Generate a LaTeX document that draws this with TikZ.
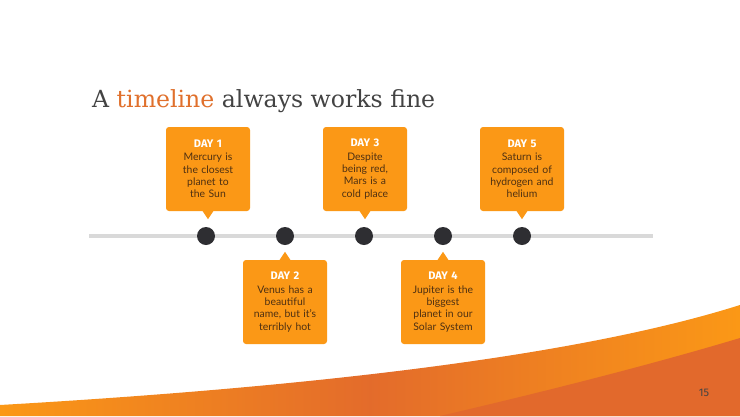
\documentclass[tikz,border=0pt]{standalone}
\usepackage{fontspec}
\setmainfont{Lato}
\newfontfamily\titlefont{DejaVu Serif}
\newfontfamily\dayfont{Fira Sans}
\usepackage{tikz}
\usetikzlibrary{calc}

\definecolor{boxorange}{HTML}{FB9816}
\definecolor{titleorange}{HTML}{E0702C}
\definecolor{titlegray}{HTML}{434343}
\definecolor{bodybrown}{HTML}{4E3012}
\definecolor{dotgray}{HTML}{2E2E32}
\definecolor{linegray}{HTML}{D9D9D9}
\definecolor{swooshred}{HTML}{E2692C}

\tikzset{
  daybox/.style={fill=boxorange, rounded corners=3pt, minimum width=84pt, minimum height=84pt,
    text width=82pt, align=center, text=bodybrown, font=\fontsize{10.4}{12.3}\selectfont, inner sep=0pt},
  dot/.style={circle, fill=dotgray, minimum size=18pt, inner sep=0pt},
}
\newcommand{\dayhead}[1]{{\dayfont\bfseries\fontsize{11}{12}\selectfont\color{white}#1}\\[1pt]}

\begin{document}
\begin{tikzpicture}[x=1pt, y=-1pt]
\useasboundingbox[fill=white] (0,0) rectangle (740,416);

% swoosh at the bottom
\shade[left color=boxorange, right color=boxorange, middle color=swooshred!95!boxorange]
  (0,416) -- (0,405) .. controls (260,390) and (560,362) .. (740,305) -- (740,416) -- cycle;
\fill[swooshred] (440,416) .. controls (560,388) and (660,362) .. (740,338) -- (740,416) -- cycle;
\node[anchor=center, text=titlegray, font=\dayfont\fontsize{11}{12}\selectfont] (num) at (704,393) {15};

% title
\node[anchor=base west, inner sep=0pt, text=titlegray, font=\titlefont\fontsize{23.6}{28}\selectfont] (title) at (92,107)
  {A \textcolor{titleorange}{timeline} always works fine};

% timeline
\coordinate (L0) at (89,236);
\coordinate (L1) at (653,236);
\draw[linegray, line width=4pt] (L0) -- (L1);

\node[dot] (P1) at (206,236) {};
\node[dot] (P2) at (285,236) {};
\node[dot] (P3) at (364,236) {};
\node[dot] (P4) at (443,236) {};
\node[dot] (P5) at (522,236) {};

% boxes above
\node[daybox] (D1) at (208,169) {\dayhead{DAY 1}Mercury is\\the closest\\planet to\\the Sun};
\node[daybox] (D3) at (365,169) {\dayhead{DAY 3}Despite\\being red,\\Mars is a\\cold place};
\node[daybox] (D5) at (522,169) {\dayhead{DAY 5}Saturn is\\composed of\\hydrogen and\\helium};

% boxes below
\node[daybox] (D2) at (285,302) {\dayhead{DAY 2}Venus has a\\beautiful\\name, but it's\\terribly hot};
\node[daybox] (D4) at (443,302) {\dayhead{DAY 4}Jupiter is the\\biggest\\planet in our\\Solar System};

% pointers
\fill[boxorange] ($(D1.south)+(-6,-1)$) -- ($(D1.south)+(6,-1)$) -- ($(D1.south)+(0,8)$) -- cycle;
\fill[boxorange] ($(D3.south)+(-6,-1)$) -- ($(D3.south)+(6,-1)$) -- ($(D3.south)+(0,8)$) -- cycle;
\fill[boxorange] ($(D5.south)+(-6,-1)$) -- ($(D5.south)+(6,-1)$) -- ($(D5.south)+(0,8)$) -- cycle;
\fill[boxorange] ($(D2.north)+(-6,1)$) -- ($(D2.north)+(6,1)$) -- ($(D2.north)+(0,-8)$) -- cycle;
\fill[boxorange] ($(D4.north)+(-6,1)$) -- ($(D4.north)+(6,1)$) -- ($(D4.north)+(0,-8)$) -- cycle;
\end{tikzpicture}
\end{document}
